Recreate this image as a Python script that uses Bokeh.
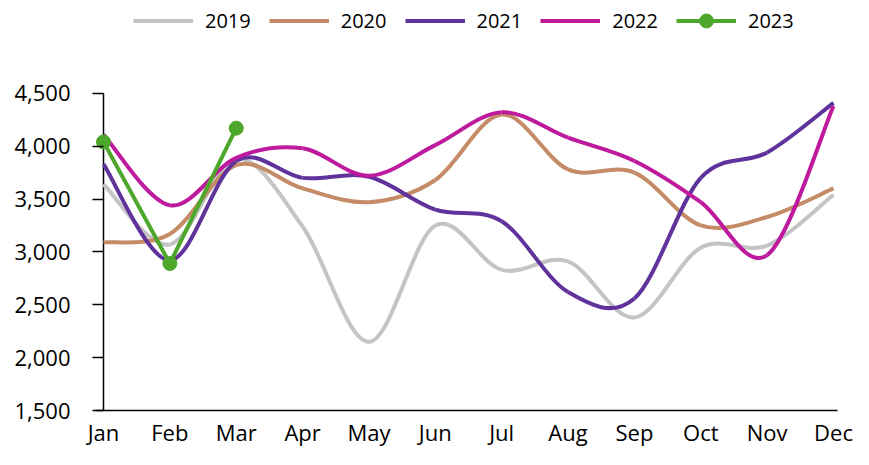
from bokeh.plotting import figure
from bokeh.models import Range1d, FixedTicker, NumeralTickFormatter, ColumnDataSource
from bokeh.embed import file_html
from bokeh.resources import INLINE

months = ["Jan", "Feb", "Mar", "Apr", "May", "Jun", "Jul", "Aug", "Sep", "Oct", "Nov", "Dec"]
y2019 = [3640, 3070, 3880, 3240, 2150, 3250, 2830, 2910, 2380, 3040, 3060, 3540]
y2020 = [3090, 3170, 3820, 3600, 3470, 3680, 4300, 3780, 3750, 3250, 3330, 3600]
y2021 = [3830, 2920, 3860, 3700, 3710, 3400, 3290, 2620, 2560, 3700, 3940, 4410]
y2022 = [4110, 3440, 3890, 3980, 3720, 4010, 4320, 4080, 3860, 3470, 2970, 4380]
y2023 = [4040, 2890, 4170]
y_ticks = [1500, 2000, 2500, 3000, 3500, 4000, 4500]

series = [
    ("2019", y2019, "#C4C4C4"),
    ("2020", y2020, "#C48B66"),
    ("2021", y2021, "#60339C"),
    ("2022", y2022, "#BE1A9E"),
]
c2023 = "#4CA72A"

FONT = "Open Sans"

# frame: left 95 (Jan at 103), right 837 (Dec at 833), top 0, bottom 411 (4,500 at 93)
px_per_unit = 318.0 / 3000.0
y_top = 4500 + 93 / px_per_unit
month_px = (833 - 103) / 11.0

p = figure(width=853, height=449, output_backend="svg", toolbar_location=None,
           x_range=Range1d(-8 / month_px, 11 + 4 / month_px),
           y_range=Range1d(1500, y_top),
           min_border_left=95, min_border_right=16, min_border_top=0, min_border_bottom=38)
p.outline_line_color = None
p.xgrid.grid_line_color = None
p.ygrid.grid_line_color = None


def smooth_segments(vals):
    n = len(vals)
    xs = list(range(n))
    d = dict(x0=[], y0=[], x1=[], y1=[], cx0=[], cy0=[], cx1=[], cy1=[])
    for i in range(n - 1):
        i0 = max(i - 1, 0)
        i3 = min(i + 2, n - 1)
        x0, y0 = xs[i], vals[i]
        x1, y1 = xs[i + 1], vals[i + 1]
        d["x0"].append(x0); d["y0"].append(y0)
        d["x1"].append(x1); d["y1"].append(y1)
        d["cx0"].append(x0 + (xs[i + 1] - xs[i0]) / 6.0)
        d["cy0"].append(y0 + (vals[i + 1] - vals[i0]) / 6.0)
        d["cx1"].append(x1 - (xs[i3] - xs[i]) / 6.0)
        d["cy1"].append(y1 - (vals[i3] - vals[i]) / 6.0)
    return ColumnDataSource(d)


# vertical axis line at the first month, from lowest to highest tick
p.segment(x0=[0], y0=[min(y_ticks)], x1=[0], y1=[max(y_ticks)], line_color="#000000", line_width=1.5)

for name, vals, col in series:
    src = smooth_segments(vals)
    p.bezier(x0="x0", y0="y0", x1="x1", y1="y1", cx0="cx0", cy0="cy0", cx1="cx1", cy1="cy1",
             source=src, line_color=col, line_width=4, legend_label=name)

x23 = list(range(len(y2023)))
p.line(x23, y2023, line_color=c2023, line_width=4, legend_label="2023")
p.scatter(x23, y2023, size=14, fill_color=c2023, line_color=c2023, legend_label="2023")

# axes
p.xaxis.ticker = FixedTicker(ticks=list(range(12)))
p.xaxis.major_label_overrides = {i: m for i, m in enumerate(months)}
p.xaxis.major_tick_line_color = None
p.xaxis.minor_tick_line_color = None
p.xaxis.major_tick_out = 0
p.xaxis.major_tick_in = 0
p.xaxis.axis_line_color = "#000000"
p.xaxis.axis_line_width = 1.5
p.xaxis.major_label_standoff = 6
p.xaxis.major_label_text_font = FONT
p.xaxis.major_label_text_font_size = "22px"
p.xaxis.major_label_text_color = "#000000"

p.yaxis.ticker = FixedTicker(ticks=y_ticks)
p.yaxis.formatter = NumeralTickFormatter(format="0,0")
p.yaxis.axis_line_color = None
p.yaxis.major_tick_line_color = "#000000"
p.yaxis.major_tick_line_width = 1.5
p.yaxis.major_tick_in = 8
p.yaxis.major_tick_out = 3
p.yaxis.minor_tick_line_color = None
p.yaxis.major_label_standoff = 22
p.yaxis.major_label_text_font = FONT
p.yaxis.major_label_text_font_size = "22px"
p.yaxis.major_label_text_color = "#000000"

lg = p.legend[0]
lg.orientation = "horizontal"
lg.location = (38, 372)
lg.glyph_width = 60
lg.glyph_height = 35
lg.label_standoff = 12
lg.spacing = 18
lg.padding = 0
lg.margin = 0
lg.border_line_color = None
lg.background_fill_alpha = 0
lg.label_text_font = FONT
lg.label_text_font_size = "20px"
lg.label_text_color = "#000000"

open("out.html", "w").write(file_html(p, INLINE))
